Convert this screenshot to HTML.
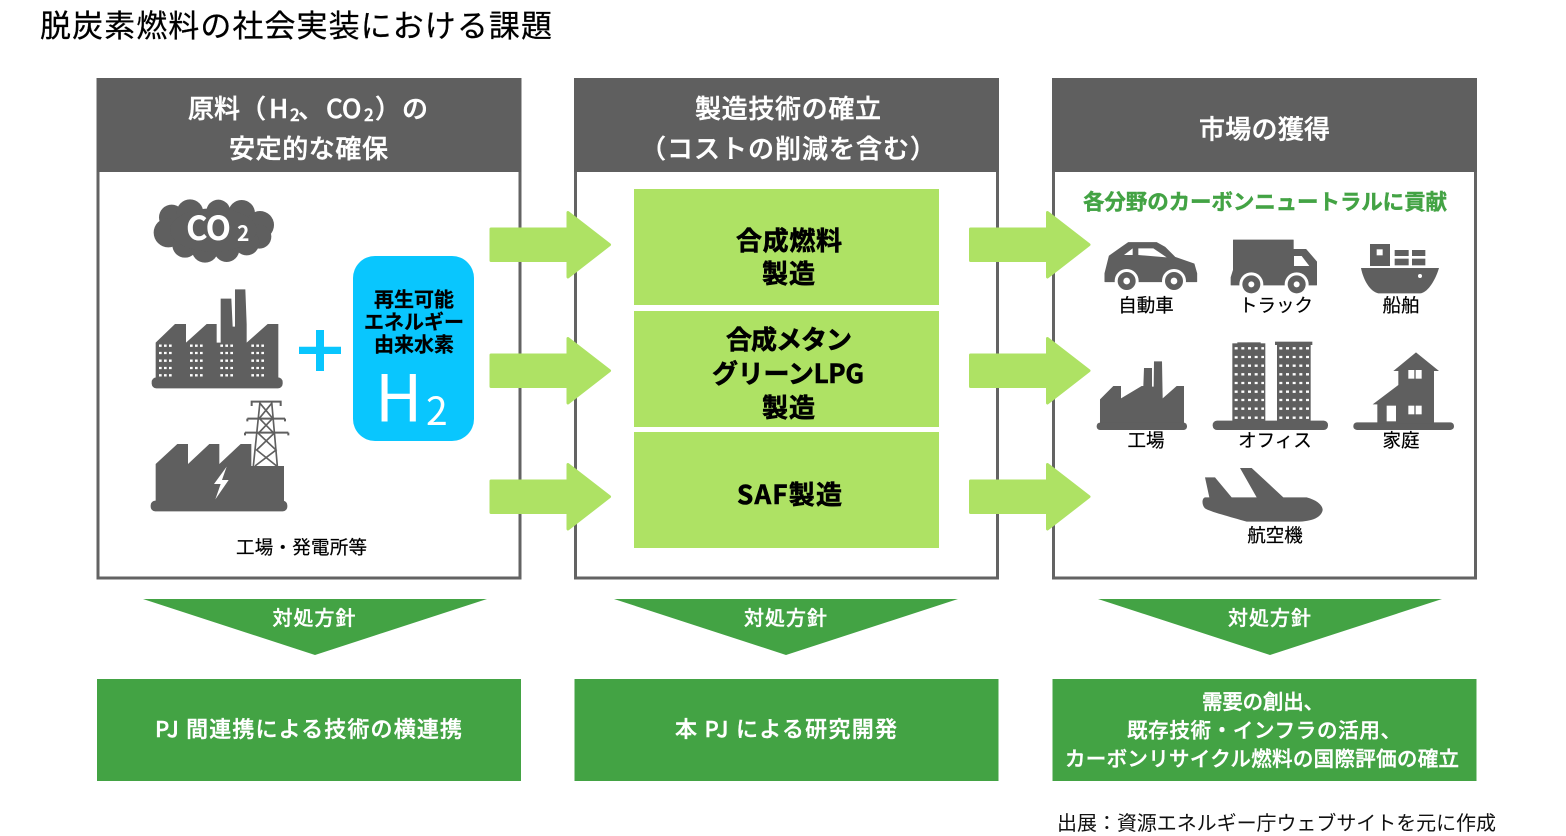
<!DOCTYPE html>
<html lang="ja"><head><meta charset="utf-8"><style>
html,body{margin:0;padding:0;background:#fff}
svg{display:block}
text{font-family:"Noto Sans CJK JP","Liberation Sans",sans-serif}
.h{font-size:26px;font-weight:500;fill:#fff;stroke:#fff;stroke-width:.45px}
.c{font-size:26px;font-weight:700;fill:#000;stroke:#000;stroke-width:.6px}
.l{font-size:18.500px;fill:#000;text-anchor:middle;stroke:#000;stroke-width:.2px}
.t{font-size:20px;font-weight:500;fill:#fff;text-anchor:middle;stroke:#fff;stroke-width:.35px}
.b{font-size:22px;font-weight:500;fill:#fff;stroke:#fff;stroke-width:.4px}
</style></head><body>
<svg width="1566" height="836" viewBox="0 0 1566 836" xmlns="http://www.w3.org/2000/svg">
<rect width="1566" height="836" fill="#fff"/>
<text x="40" y="37" font-size="31" fill="#000" stroke="#000" stroke-width=".25" textLength="512">脱炭素燃料の社会実装における課題</text>

<g fill="#fff" stroke="#636363" stroke-width="3">
<rect x="98" y="79.500" width="422" height="498.500"/>
<rect x="575.500" y="79.500" width="422" height="498.500"/>
<rect x="1053.500" y="79.500" width="422" height="498.500"/>
</g>
<g fill="#5f5f5f">
<rect x="97" y="78" width="424" height="94"/>
<rect x="574" y="78" width="425" height="94"/>
<rect x="1052" y="78" width="425" height="94"/>
</g>

<text class="h" x="188" y="118">原料（<tspan x="269">H</tspan><tspan x="290" dy="3" style="font-size:17px">2</tspan><tspan x="298" dy="-3">、</tspan><tspan x="326">CO</tspan><tspan x="364" dy="3" style="font-size:17px">2</tspan><tspan x="375" dy="-3">）</tspan><tspan x="402">の</tspan></text>
<text class="h" x="229" y="158" textLength="159">安定的な確保</text>
<text class="h" x="695" y="118" textLength="186">製造技術の確立</text>
<text class="h" x="640" y="158" textLength="296">（コストの削減を含む）</text>
<text class="h" x="1199" y="138.500" textLength="131">市場の獲得</text>

<!-- center boxes -->
<g fill="#aee264">
<rect x="634" y="189" width="305" height="116"/>
<rect x="634" y="311" width="305" height="116"/>
<rect x="634" y="432" width="305" height="116"/>
</g>
<text class="c" x="736" y="250" textLength="106">合成燃料</text>
<text class="c" x="762" y="283" textLength="53">製造</text>
<text class="c" x="726" y="349" textLength="126">合成メタン</text>
<text class="c" x="712" y="383" textLength="152">グリーンLPG</text>
<text class="c" x="762" y="417" textLength="53">製造</text>
<text class="c" x="737" y="504" textLength="105">SAF製造</text>

<!-- arrows -->
<g fill="#aee264" stroke="#aee264" stroke-width="3" stroke-linejoin="round">
<path d="M491 229H568V212.500L609.500 244.700L568 277V260.500H491Z"/>
<path d="M491 355H568V338.500L609.500 370.700L568 403V386.500H491Z"/>
<path d="M491 481H568V464.500L609.500 496.700L568 529V512.500H491Z"/>
<path d="M970.500 229H1047.500V212.500L1089 244.700L1047.500 277V260.500H970.500Z"/>
<path d="M970.500 355H1047.500V338.500L1089 370.700L1047.500 403V386.500H970.500Z"/>
<path d="M970.500 481H1047.500V464.500L1089 496.700L1047.500 529V512.500H970.500Z"/>
</g>

<!-- left panel icons -->
<g transform="translate(90,170) scale(.33333)" fill="#5f5f5f">
<circle cx="245" cy="142" r="38"/><circle cx="300" cy="128" r="40"/><circle cx="385" cy="125" r="36"/><circle cx="455" cy="130" r="40"/><circle cx="510" cy="165" r="42"/><circle cx="508" cy="200" r="36"/><circle cx="235" cy="188" r="44"/><circle cx="285" cy="225" r="38"/><circle cx="345" cy="238" r="40"/><circle cx="410" cy="238" r="38"/><circle cx="470" cy="218" r="38"/><ellipse cx="370" cy="180" rx="130" ry="65"/>
<path d="M197 630V518L255 462H288V518L350 462H380V518H392V386H424L428 470H435V358H466L470 462V518L533 462H565V630Z"/>
<rect x="185" y="622" width="393" height="33" rx="14"/>
<g stroke="#fff" stroke-width="7" stroke-dasharray="8 7" fill="none">
<path d="M207 527H252M207 549H252M207 572H252M207 594H252M207 616H252"/>
<path d="M300 527H345M300 549H345M300 572H345M300 594H345M300 616H345"/>
<path d="M391 527H436M391 549H436M391 572H436M391 594H436M391 616H436"/>
<path d="M484 527H529M484 549H529M484 572H529M484 594H529M484 616H529"/>
</g>
<path d="M197 1000V882L262 822H294V882L358 822H388V882L452 822H484V888H582V1000Z"/>
<rect x="182" y="992" width="410" height="32" rx="14"/>
<path d="M410 890L372 942H392L376 988L416 930H396Z" fill="#fff"/>
<g fill="none" stroke="#5f5f5f" stroke-width="5">
<path d="M510 695L490 888M545 695L562 888M510 700L548 745L505 790L558 840L495 888M545 700L508 745L552 790L500 840L560 888"/>
<path d="M485 708V695H572V708M472 746H585M465 788H595M472 746V754M585 746V754M465 788V796M595 788V796" stroke-width="6"/>
</g>
</g>
<text x="186" y="240" font-size="33" font-weight="700" fill="#fff" textLength="45">CO</text>
<text x="237" y="241" font-size="21" font-weight="700" fill="#fff">2</text>
<path d="M316 330H324V346.700H341V354H324V371H316V354H299V346.700H316Z" fill="#09c6fe"/>
<rect x="353" y="256" width="121" height="185" rx="22" fill="#09c6fe"/>
<g font-size="20" font-weight="700" fill="#000" stroke="#000" stroke-width=".25">
<text x="374" y="306.500" textLength="80">再生可能</text>
<text x="364" y="329" textLength="100">エネルギー</text>
<text x="374" y="351.500" textLength="80">由来水素</text>
</g>
<text x="375" y="421.700" font-size="65" font-weight="400" fill="#fff">H</text>
<text x="426" y="425" font-size="39" font-weight="400" fill="#fff">2</text>
<text x="236" y="554" font-size="18.500" stroke="#000" stroke-width=".2" textLength="131" fill="#000">工場・発電所等</text>

<!-- right panel -->
<text x="1083" y="209.500" font-size="21.500" font-weight="700" fill="#43a344" stroke="#43a344" stroke-width=".4" textLength="364">各分野のカーボンニュートラルに貢献</text>
<g transform="translate(1050,170) scale(.33333)" fill="#5f5f5f">
<!-- car -->
<path d="M165 335V310L178 258L215 232L235 218H320L345 232L375 262L432 282L440 310V335Z" stroke="#5f5f5f" stroke-width="3" stroke-linejoin="round"/>
<g><circle cx="230" cy="333" r="36" fill="#fff"/><circle cx="230" cy="333" r="27"/><circle cx="230" cy="333" r="10" fill="#fff"/>
<circle cx="372" cy="333" r="36" fill="#fff"/><circle cx="372" cy="333" r="27"/><circle cx="372" cy="333" r="10" fill="#fff"/></g>
<path d="M222 255L248 235V255ZM265 235H310L350 262L265 255Z" fill="#fff"/>
<!-- truck -->
<path d="M550 210H730V238H768L800 275V345H543V322L550 300Z" stroke="#5f5f5f" stroke-width="2" stroke-linejoin="round"/>
<path d="M732 258H755L778 288H732Z" fill="#fff"/>
<circle cx="604" cy="343" r="36" fill="#fff"/><circle cx="604" cy="343" r="27"/><circle cx="604" cy="343" r="9" fill="#fff"/>
<circle cx="740" cy="343" r="36" fill="#fff"/><circle cx="740" cy="343" r="27"/><circle cx="740" cy="343" r="9" fill="#fff"/>
<!-- ship -->
<rect x="960" y="222" width="60" height="66"/><rect x="980" y="238" width="18" height="18" fill="#fff"/>
<rect x="1034" y="240" width="42" height="18"/><rect x="1086" y="240" width="40" height="18"/><rect x="1034" y="266" width="42" height="20"/><rect x="1086" y="266" width="40" height="20"/>
<path d="M933 294H1167C1155 335 1130 370 1110 370H985C960 365 940 330 933 294Z"/><circle cx="1110" cy="318" r="6" fill="#fff"/>
<!-- small factory -->
<path d="M150 765V688L190 648H213V685L275 648H280L282 594H306V650H311L312 574H336L338 685L380 648H402V765Z"/>
<rect x="140" y="758" width="271" height="22" rx="10"/>
<!-- office -->
<rect x="547" y="520" width="99" height="236"/><rect x="681" y="520" width="101" height="236"/>
<rect x="562" y="517" width="70" height="6"/><rect x="675" y="515" width="112" height="10"/>
<rect x="488" y="752" width="346" height="28" rx="13"/>
<g stroke="#fff" stroke-width="7" stroke-dasharray="9 11" fill="none">
<path d="M554 535H642M554 561H642M554 587H642M554 613H642M554 639H642M554 665H642M554 690H642M554 716H642M554 743H642"/>
<path d="M688 535H778M688 561H778M688 587H778M688 613H778M688 639H778M688 665H778M688 690H778M688 716H778M688 743H778"/>
</g>
<!-- house -->
<rect x="910" y="757" width="302" height="23" rx="11"/>
<path d="M1030 603L1098 547L1167 603H1152V760H982V703H968L1045 645V603Z"/>
<g fill="#fff"><rect x="1075" y="600" width="18" height="26"/><rect x="1097" y="600" width="18" height="26"/><rect x="1075" y="707" width="18" height="26"/><rect x="1097" y="707" width="18" height="26"/><rect x="1010" y="707" width="28" height="47"/></g>
<!-- plane -->
<path d="M465 922H495L545 982H620L570 894H605L700 982H770C800 990 818 1005 818 1020C815 1040 790 1055 740 1055H590C540 1040 480 1025 465 1015C455 1005 455 985 465 982H478Z"/>
</g>
<text class="l" x="1146" y="312">自動車</text>
<text class="l" x="1276" y="312">トラック</text>
<text class="l" x="1401" y="312">船舶</text>
<text class="l" x="1146" y="447">工場</text>
<text class="l" x="1275" y="447">オフィス</text>
<text class="l" x="1401" y="447">家庭</text>
<text class="l" x="1275" y="542">航空機</text>

<!-- bottom -->
<g fill="#43a344">
<path d="M143 599H487L315 655Z"/><path d="M614 599H958L786 655Z"/><path d="M1098 599H1442L1270 655Z"/>
<rect x="97" y="679" width="424" height="102"/><rect x="574.500" y="679" width="424" height="102"/><rect x="1052.500" y="679" width="424" height="102"/>
</g>
<text class="t" x="314.500" y="625" letter-spacing="1">対処方針</text>
<text class="t" x="786" y="625" letter-spacing="1">対処方針</text>
<text class="t" x="1270" y="625" letter-spacing="1">対処方針</text>
<text class="b" x="155" y="737" textLength="307">PJ 間連携による技術の横連携</text>
<text class="b" x="675" y="737" textLength="222">本 PJ による研究開発</text>
<text class="b" x="1202" y="709" style="font-size:20.500px" textLength="122">需要の創出、</text>
<text class="b" x="1127" y="737.500" style="font-size:20.500px" textLength="274">既存技術・インフラの活用、</text>
<text class="b" x="1065" y="766" style="font-size:20.500px" textLength="394">カーボンリサイクル燃料の国際評価の確立</text>
<text x="1057" y="830" font-size="20" fill="#111" textLength="439">出展：資源エネルギー庁ウェブサイトを元に作成</text>
</svg>
</body></html>
